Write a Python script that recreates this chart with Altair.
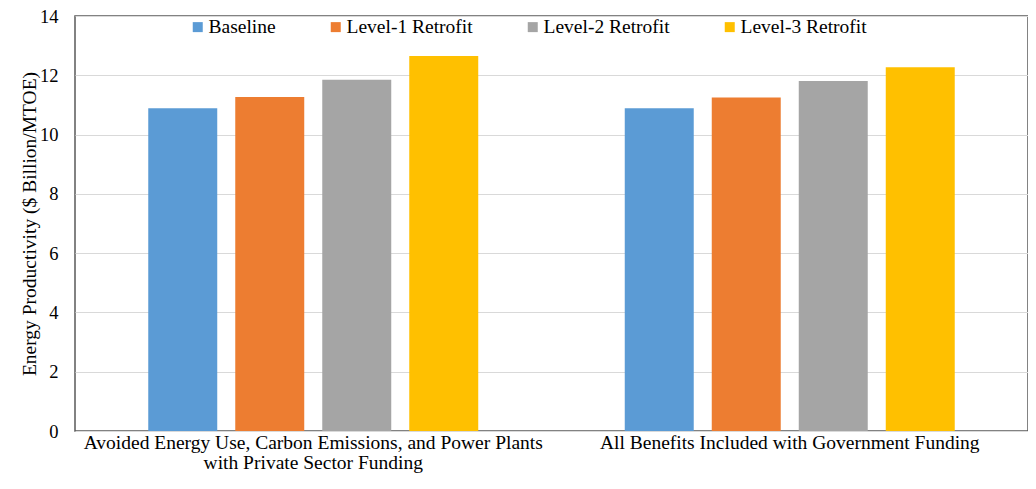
import altair as alt
import pandas as pd

categories = [
    "Avoided Energy Use, Carbon Emissions, and Power Plants\nwith Private Sector Funding",
    "All Benefits Included with Government Funding",
]
series = ["Baseline", "Level-1 Retrofit", "Level-2 Retrofit", "Level-3 Retrofit"]
colors = ["#5B9BD5", "#ED7D31", "#A5A5A5", "#FFC000"]
baseline = [10.89, 10.89]
level1 = [11.27, 11.25]
level2 = [11.85, 11.81]
level3 = [12.65, 12.27]

rows = []
for i, c in enumerate(categories):
    for s, vals in zip(series, [baseline, level1, level2, level3]):
        rows.append({"category": c, "series": s, "value": vals[i]})
df = pd.DataFrame(rows)

font = "Liberation Serif"

chart = (
    alt.Chart(df)
    .mark_bar()
    .encode(
        x=alt.X(
            "category:N",
            sort=categories,
            scale=alt.Scale(paddingInner=0, paddingOuter=0),
            axis=alt.Axis(
                title=None,
                labelAngle=0,
                ticks=False,
                domain=False,
                labelExpr="split(datum.label, '\\n')",
                labelFont=font,
                labelFontSize=19.5,
                labelColor="#000000",
                labelPadding=2,
                labelLineHeight=20,
                labelLimit=900,
            ),
        ),
        xOffset=alt.XOffset(
            "series:N",
            sort=series,
            scale=alt.Scale(paddingInner=0.207, paddingOuter=0.842),
        ),
        y=alt.Y(
            "value:Q",
            scale=alt.Scale(domain=[0, 14]),
            axis=alt.Axis(
                title="Energy Productivity ($ Billion/MTOE)",
                values=[0, 2, 4, 6, 8, 10, 12, 14],
                ticks=False,
                domain=False,
                grid=True,
                gridColor="#D9D9D9",
                gridWidth=1.2,
                labelFont=font,
                labelFontSize=18.5,
                labelColor="#000000",
                labelPadding=17,
                titleFont=font,
                titleFontSize=19.5,
                titleFontWeight="normal",
                titleColor="#000000",
                titlePadding=0,
            ),
        ),
        color=alt.Color(
            "series:N",
            sort=series,
            scale=alt.Scale(domain=series, range=colors),
            legend=alt.Legend(
                title=None,
                orient="none",
                direction="horizontal",
                legendX=113,
                legendY=1,
                symbolType="square",
                symbolSize=100,
                symbolStrokeWidth=0,
                labelFont=font,
                labelFontSize=19.5,
                labelColor="#000000",
                labelOffset=1,
                columnPadding=50,
            ),
        ),
    )
    .properties(
        width=953,
        height=415,
        autosize=alt.AutoSizeParams(type="none"),
        padding={"left": 67, "top": 8, "right": 0, "bottom": 46},
    )
    .configure(font=font)
    .configure_view(stroke="#595959", strokeWidth=1.5)
)

chart.save("out.html", embed_options={"renderer": "svg", "actions": False})
